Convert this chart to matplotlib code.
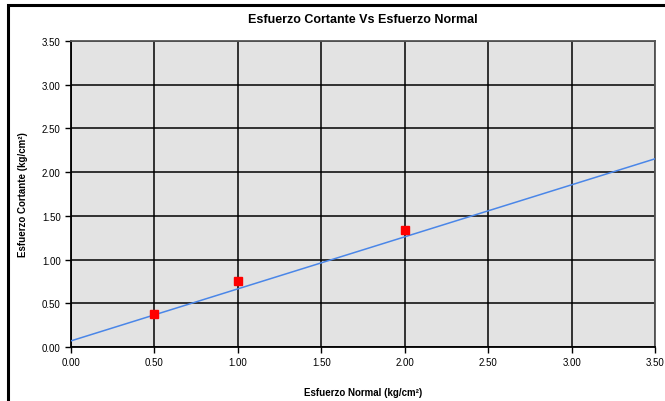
import matplotlib
matplotlib.use("Agg")
import matplotlib.pyplot as plt
import numpy as np
from matplotlib.patches import Rectangle

plt.rcParams['font.family'] = ['Liberation Sans', 'DejaVu Sans']

# ensayo: esfuerzo normal vs cortante
normal = [0.50, 1.00, 2.00]
cortante = [0.38, 0.75, 1.34]

# recta de ajuste (cohesion y pendiente)
cohesion = 0.07
pendiente = 0.595
x_recta = [0.0, 3.5]

ticks = [0.0, 0.5, 1.0, 1.5, 2.0, 2.5, 3.0, 3.5]

fig = plt.figure(figsize=(6.65, 4.02), dpi=100)
ax = fig.add_axes([71/665, 1-348/402, 584/665, 306/402])

# outer frame of the chart
fig.patches.append(Rectangle((8/665, -0.1), 1.0, 1-6/402+0.1, transform=fig.transFigure,
                             fill=False, edgecolor='black', linewidth=2.2))

ax.set_facecolor('#e3e3e3')
ax.plot(x_recta, [cohesion + pendiente*v for v in x_recta], color='#4a86e8', linewidth=1.1, zorder=3)
ax.plot(normal, cortante, 's', color='#ff0000', markersize=6, zorder=4)

ax.set_xlim(0, 3.5)
ax.set_ylim(0, 3.5)
ax.set_xticks(ticks)
ax.set_yticks(ticks)
ax.set_xticklabels(['%.2f' % t for t in ticks])
ax.set_yticklabels(['%.2f' % t for t in ticks])
ax.tick_params(labelsize=7, length=4, width=1, direction='out', colors='black')
ax.grid(True, color='black', linewidth=1.1)
ax.set_axisbelow(True)
for s in ['top', 'right']:
    ax.spines[s].set_color('#555555')
for s in ax.spines.values():
    s.set_linewidth(1.3)

ax.set_title('Esfuerzo Cortante Vs Esfuerzo Normal', fontsize=9, fontweight='bold', pad=14)
ax.set_xlabel('Esfuerzo Normal (kg/cm²)', fontsize=7, fontweight='bold', labelpad=14)
ax.set_ylabel('Esfuerzo Cortante (kg/cm²)', fontsize=7, fontweight='bold', labelpad=10)

fig.savefig('out.png', dpi=100)
